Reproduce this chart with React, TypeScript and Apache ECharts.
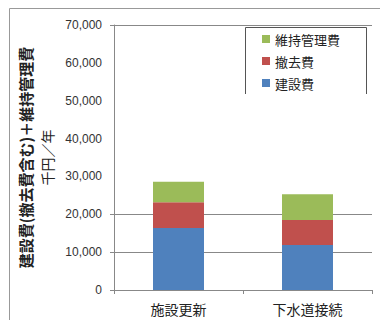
import React, { useEffect, useRef } from "react";
import * as echarts from "echarts";

const categories = ["施設更新", "下水道接続"];
const seriesNames = ["建設費", "撤去費", "維持管理費"];
const construction = [16400, 11900];
const removal = [6800, 6600];
const maintenance = [5400, 6800];
const tickLabels = ["0", "10,000", "20,000", "30,000", "40,000", "50,000", "60,000", "70,000"];
const visibleGridIdx = [1, 2, 7];
const visibleTickIdx = [0, 1, 2, 7];

const JP = "'Noto Sans CJK JP', 'Noto Sans', sans-serif";

export default function App() {
  const ref = useRef<HTMLDivElement>(null);
  useEffect(() => {
    const chart = echarts.init(ref.current!, null, { renderer: "svg" });
    const colors = ["#4F81BD", "#C0504D", "#9BBB59"];
    const values = [construction, removal, maintenance];
    chart.setOption({
      animation: false,
      backgroundColor: "#fff",
      grid: { left: 114, right: 8, top: 25, bottom: 30 },
      legend: {
        data: [seriesNames[2], seriesNames[1], seriesNames[0]],
        orient: "vertical",
        left: 257,
        top: 27,
        itemWidth: 8,
        itemHeight: 8,
        itemGap: 8,
        icon: "rect",
        textStyle: { fontFamily: JP, fontSize: 13, color: "#222", lineHeight: 14 },
      },
      xAxis: {
        type: "category",
        data: categories,
        axisLine: { lineStyle: { color: "#888" } },
        axisTick: { show: true, length: 4, lineStyle: { color: "#888" } },
        axisLabel: { fontFamily: JP, fontSize: 14, color: "#222", margin: 12 },
      },
      yAxis: [
        {
          type: "value",
          min: 0,
          max: 70000,
          interval: 10000,
          axisLine: { show: true, lineStyle: { color: "#888" } },
          axisTick: { show: false },
          splitLine: { show: false },
          axisLabel: {
            fontFamily: "'Liberation Sans', Arial, sans-serif",
            fontSize: 12,
            color: "#333",
            margin: 12,
            formatter: (v: number) => tickLabels[Math.round(v / 10000)],
          },
          name: "{b|建設費(撤去費含む)＋維持管理費}\n{n|千円／年}",
          nameLocation: "middle",
          nameRotate: 90,
          nameGap: 56,
          nameTextStyle: {
            rich: {
              b: { fontFamily: JP, fontSize: 15, fontWeight: "bold", color: "#222", lineHeight: 22 },
              n: { fontFamily: JP, fontSize: 14, color: "#222", lineHeight: 22 },
            },
          },
        },
        {
          type: "category",
          data: tickLabels,
          boundaryGap: false,
          position: "left",
          axisLine: { show: false },
          axisLabel: { show: false },
          axisTick: {
            show: true,
            length: 4,
            interval: (i: number) => visibleTickIdx.includes(i),
            lineStyle: { color: "#888" },
          },
          splitLine: {
            show: true,
            interval: (i: number) => visibleGridIdx.includes(i),
            lineStyle: { color: "#888", width: 1 },
          },
        },
      ],
      graphic: [
        {
          type: "rect",
          shape: { x: 9.5, y: 8.5, width: 400, height: 400 },
          style: { fill: "none", stroke: "#999", lineWidth: 1 },
          silent: true,
        },
        {
          type: "polyline",
          shape: { points: [[245.5, 94], [245.5, 27.5], [366.5, 27.5], [366.5, 94]] },
          style: { fill: "none", stroke: "#555", lineWidth: 1 },
          silent: true,
        },
      ],
      series: seriesNames.map((n, i) => ({
        name: n,
        type: "bar",
        stack: "total",
        yAxisIndex: 0,
        barWidth: 51,
        itemStyle: { color: colors[i] },
        data: values[i],
      })),
    });
    return () => chart.dispose();
  }, []);
  return <div ref={ref} style={{ width: 380, height: 320, position: "absolute", left: 0, top: 0 }} />;
}
